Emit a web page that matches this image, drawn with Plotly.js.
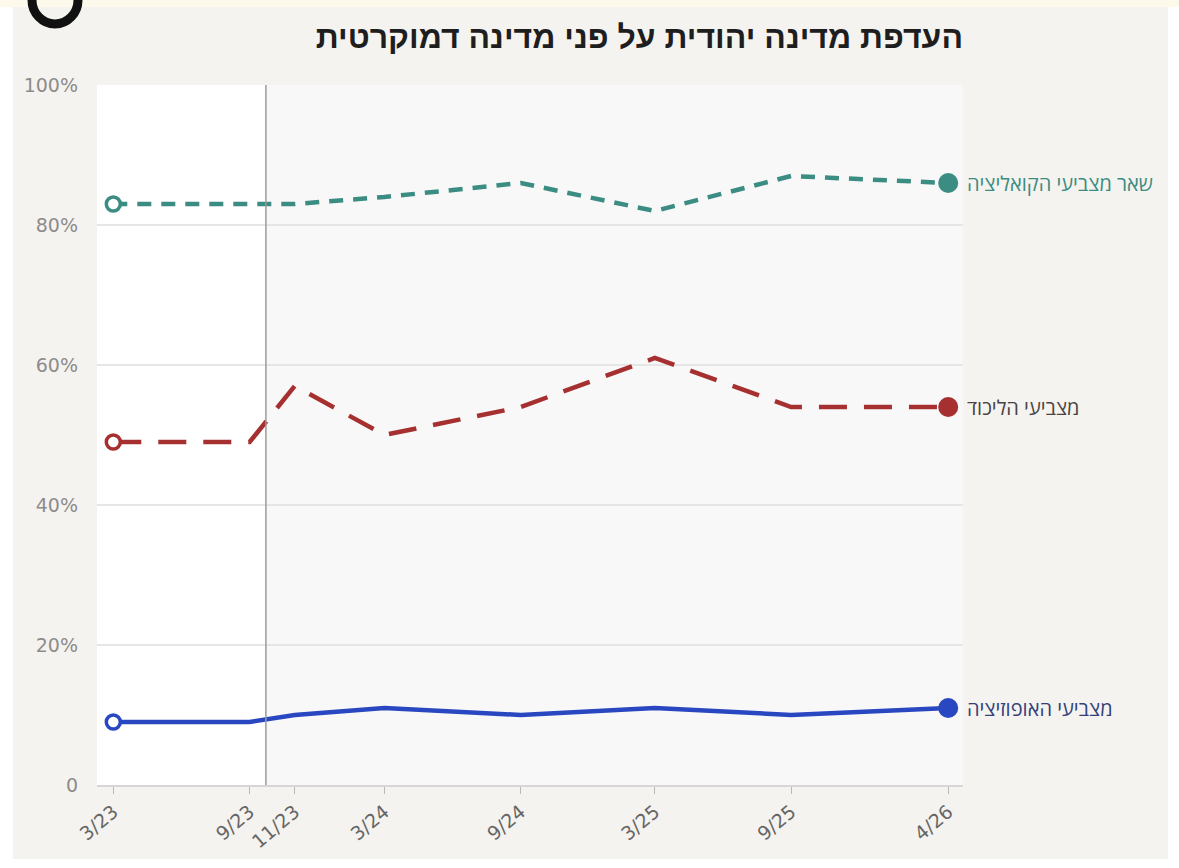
<!DOCTYPE html>
<html>
<head>
<meta charset="utf-8">
<script src="https://cdn.plot.ly/plotly-3.0.1.min.js"></script>
<style>
  html, body { margin: 0; padding: 0; background: #ffffff; }
  #myDiv { width: 1179px; height: 868px; }
</style>
</head>
<body>
<div id="myDiv"></div>
<script>
// survey rounds (mid-month) and their labels
var dates = ['2023-03-15', '2023-09-15', '2023-11-15', '2024-03-15', '2024-09-15', '2025-03-15', '2025-09-15', '2026-04-15'];
var tickLabels = ['3/23', '9/23', '11/23', '3/24', '9/24', '3/25', '9/25', '4/26'];

// share preferring a Jewish state over a democratic one, %
var coalition = [83, 83, 83, 84, 86, 82, 87, 86];
var likud = [49, 49, 57, 50, 54, 61, 54, 54];
var opposition = [9, 9, 10, 11, 10, 11, 10, 11];

var seriesNames = ['שאר מצביעי הקואליציה', 'מצביעי הליכוד', 'מצביעי האופוזיציה'];
var yTicks = [0, 20, 40, 60, 80, 100];
var yTickLabels = ['0', '20%', '40%', '60%', '80%', '100%'];
var oct7 = '2023-10-07';

var colTeal = '#3b8c82', colRed = '#a5302f', colBlue = '#2a47c2';

// plot area in pixels, used to place the panel background around it
var L = 97, R = 963, T = 85, B = 785, W = 1179, H = 868;
function px(x) { return (x - L) / (R - L); }
function py(y) { return (B - y) / (B - T); }

function endMarkers(color) {
  var n = dates.length;
  var sizes = [], fills = [], lw = [];
  for (var i = 0; i < n; i++) {
    sizes.push(i === 0 ? 14 : (i === n - 1 ? 20 : 0));
    fills.push(i === 0 ? '#ffffff' : color);
    lw.push(i === 0 ? 3.5 : 0);
  }
  return { size: sizes, color: fills, opacity: 1, line: { color: color, width: lw } };
}

var trace1 = {
  x: dates, y: coalition, type: 'scatter', mode: 'lines+markers',
  name: seriesNames[0],
  line: { color: colTeal, width: 4.5, dash: '14px,10px' },
  marker: endMarkers(colTeal)
};
var trace2 = {
  x: dates, y: likud, type: 'scatter', mode: 'lines+markers',
  name: seriesNames[1],
  line: { color: colRed, width: 4.5, dash: '28px,17px' },
  marker: endMarkers(colRed)
};
var trace3 = {
  x: dates, y: opposition, type: 'scatter', mode: 'lines+markers',
  name: seriesNames[2],
  line: { color: colBlue, width: 4.5 },
  marker: endMarkers(colBlue)
};

var data = [trace1, trace2, trace3];

var last = dates.length - 1;
var labelColors = [colTeal, '#4a4444', '#33407c'];
var labelValues = [coalition[last], likud[last], opposition[last]];
var annotations = labelValues.map(function (v, i) {
  return {
    x: dates[last], y: v, xref: 'x', yref: 'y',
    text: seriesNames[i], showarrow: false,
    xanchor: 'left', yanchor: 'middle', xshift: 17,
    font: { family: 'Open Sans, DejaVu Sans, sans-serif', size: 20, color: labelColors[i] }
  };
});

var layout = {
  width: W,
  height: H,
  margin: { l: L, r: W - R, t: T, b: H - B },
  paper_bgcolor: '#ffffff',
  plot_bgcolor: '#f8f8f8',
  showlegend: false,
  hovermode: false,
  title: {
    text: 'העדפת מדינה יהודית על פני מדינה דמוקרטית',
    xref: 'container', x: R / W, xanchor: 'right',
    yref: 'container', y: 1 - 37 / H, yanchor: 'middle',
    font: { family: 'Liberation Sans, DejaVu Sans, Arial, sans-serif', size: 32, color: '#1e1e1e', weight: 'bold' }
  },
  xaxis: {
    type: 'date',
    range: ['2023-02-21', '2026-05-05'],
    tickvals: dates,
    ticktext: tickLabels,
    tickangle: -40,
    showgrid: false,
    zeroline: false,
    showline: true,
    linecolor: '#d6d6d6',
    linewidth: 1.5,
    ticks: 'outside',
    ticklen: 7,
    tickwidth: 1,
    tickcolor: '#b8b8b8',
    tickfont: { family: 'DejaVu Sans, sans-serif', size: 19, color: '#666666' },
    fixedrange: true
  },
  yaxis: {
    range: [0, 100],
    tickvals: yTicks,
    ticktext: yTickLabels,
    showgrid: true,
    gridcolor: '#e6e6e6',
    gridwidth: 1.5,
    zeroline: false,
    showline: false,
    ticks: '',
    ticklabelstandoff: 18,
    tickfont: { family: 'DejaVu Sans, sans-serif', size: 19, color: '#8c8c8c' },
    fixedrange: true
  },
  shapes: [
    // beige card behind the chart
    { type: 'rect', xref: 'paper', yref: 'paper', layer: 'below',
      x0: px(13), x1: px(1168), y0: py(859), y1: py(7),
      fillcolor: '#f5f3ef', line: { width: 0 } },
    // grey plot background
    { type: 'rect', xref: 'paper', yref: 'paper', layer: 'below',
      x0: 0, x1: 1, y0: 0, y1: 1,
      fillcolor: '#f8f8f8', line: { width: 0 } },
    // white part before 7 October
    { type: 'rect', xref: 'x', yref: 'paper', layer: 'below',
      x0: '2023-02-21', x1: oct7, y0: 0, y1: 1,
      fillcolor: '#ffffff', line: { width: 0 } },
    { type: 'line', xref: 'x', yref: 'paper', layer: 'above',
      x0: oct7, x1: oct7, y0: 0, y1: 1,
      line: { color: '#9a9a9a', width: 1.5 } },
    // thin warm strip along the top edge
    { type: 'rect', xref: 'paper', yref: 'paper', layer: 'below',
      x0: px(0), x1: px(W), y0: py(7), y1: py(0),
      fillcolor: '#fdfaec', line: { width: 0 } },
    // black ring cut off at the top-left of the screenshot
    { type: 'circle', xref: 'paper', yref: 'paper', layer: 'above',
      x0: px(32), x1: px(78), y0: py(24), y1: py(-24),
      fillcolor: 'rgba(0,0,0,0)', line: { color: '#111111', width: 9 } }
  ],
  annotations: annotations
};

var config = { displayModeBar: false, staticPlot: true };

Plotly.newPlot('myDiv', data, layout, config);
</script>
</body>
</html>
